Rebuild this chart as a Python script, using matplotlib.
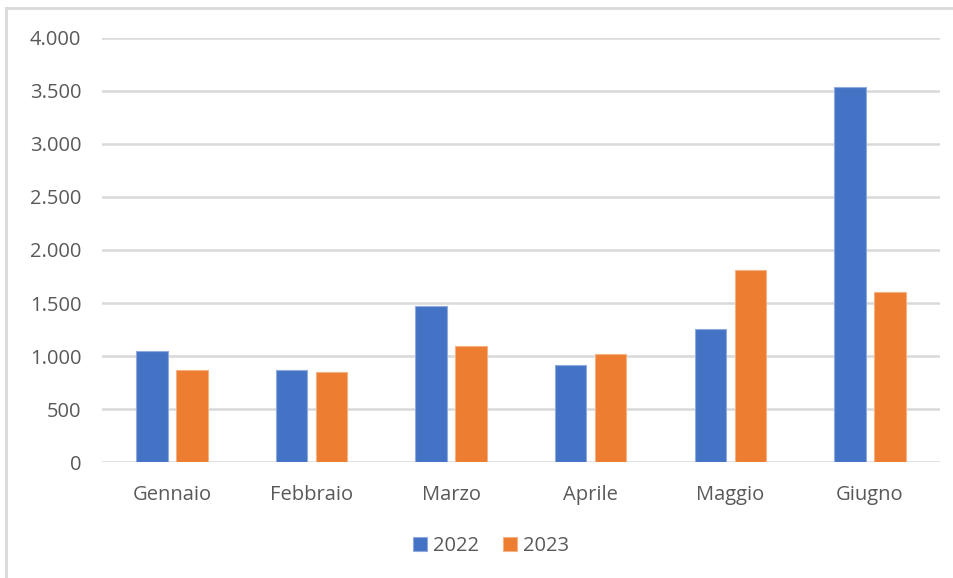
import numpy as np
import matplotlib.pyplot as plt
from matplotlib.lines import Line2D
from matplotlib.ticker import FuncFormatter

mesi = ['Gennaio', 'Febbraio', 'Marzo', 'Aprile', 'Maggio', 'Giugno']
valori_2022 = [1050, 869, 1474, 916, 1254, 3539]
valori_2023 = [869, 847, 1097, 1022, 1807, 1606]
anni = ['2022', '2023']

plt.rcParams['font.family'] = ['Open Sans', 'DejaVu Sans']

fig = plt.figure(figsize=(9.54, 5.78), dpi=100)
ax = fig.add_axes([0.107, 0.2, 0.878, 0.735])

x = np.arange(len(mesi))
w = 0.225
off = 0.143
ax.bar(x - off, valori_2022, w, color='#4472C4', edgecolor='#8faadc', linewidth=0.8,
       label=anni[0], zorder=3)
ax.bar(x + off, valori_2023, w, color='#ED7D31', edgecolor='#f4b183', linewidth=0.8,
       label=anni[1], zorder=3)

ax.set_xlim(-0.5, len(mesi) - 0.5)
ax.set_ylim(0, 4000)
ax.set_yticks(range(0, 4001, 500))
ax.yaxis.set_major_formatter(FuncFormatter(lambda v, p: f'{int(v):,}'.replace(',', '.')))
ax.set_xticks(x)
ax.set_xticklabels(mesi)
ax.grid(axis='y', color='#d9d9d9', linewidth=1.8, zorder=0)
for s in ax.spines.values():
    s.set_visible(False)
ax.tick_params(axis='both', length=0, labelsize=14.5, colors='#595959')
ax.tick_params(axis='x', pad=16)
ax.tick_params(axis='y', pad=15)

leg = fig.legend(loc='center', bbox_to_anchor=(0.515, 0.055), ncol=2, frameon=False,
                 fontsize=14.5, handlelength=0.7, handleheight=0.7, handletextpad=0.3,
                 columnspacing=1.2)
for t in leg.get_texts():
    t.set_color('#595959')

# frame lines of the chart area
fig.add_artist(Line2D([0.0068, 1.0], [0.986, 0.986], color='#d9d9d9', linewidth=2,
                      transform=fig.transFigure))
fig.add_artist(Line2D([0.0068, 0.0068], [0.0, 0.986], color='#d9d9d9', linewidth=2,
                      transform=fig.transFigure))

fig.savefig('out.png', dpi=100, facecolor='white')
